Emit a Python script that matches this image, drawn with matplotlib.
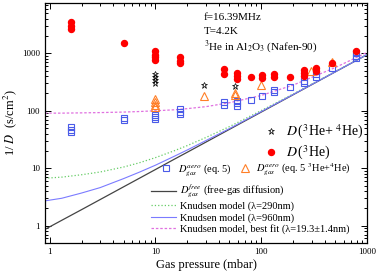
import numpy as np
import matplotlib
matplotlib.use('Agg')
from matplotlib import pyplot as plt
from matplotlib import ticker

plt.rcParams['font.family'] = ['Liberation Serif', 'DejaVu Serif']
plt.rcParams['mathtext.fontset'] = 'stix'

# D(3He), red dots
p_he3 = [1.6, 1.6, 1.6, 5, 10, 10, 10, 10, 17, 17, 17, 44, 44, 59, 59, 59, 80,
         102, 102, 133, 133, 186, 254, 254, 254, 330, 330, 470, 790]
inv_he3 = [3500, 3000, 2700, 1500, 1100, 950, 850, 780, 850, 750, 690, 540, 440,
           450, 400, 360, 390, 420, 370, 430, 380, 395, 520, 460, 410, 560, 500, 680, 1100]

# D(3He+4He), stars
p_mix = [10, 10, 10, 10, 29, 57]
inv_mix = [430, 380, 340, 310, 285, 270]

# D_gas^aero eq.5, blue squares
p_aero = [1.6, 1.6, 1.6, 5, 5, 10, 10, 10, 17, 17, 17, 44, 44, 59, 59, 59, 80,
          102, 133, 133, 186, 254, 254, 330, 330, 470, 790, 790, 790]
inv_aero = [53, 47, 43, 76, 69, 86, 78, 72, 108, 97, 89, 142, 124, 150, 135, 122, 157,
            182, 232, 212, 260, 335, 300, 430, 390, 545, 1000, 900, 820]

# D_gas^aero eq.5 3He+4He, orange triangles
p_aero_mix = [10, 10, 10, 10, 29, 57, 57, 100, 295, 470]
inv_aero_mix = [160, 140, 125, 115, 182, 205, 190, 280, 500, 720]

# model curves
p_line = [0.9, 1.3, 2, 3, 5, 7, 10, 15, 20, 30, 50, 100, 200, 500, 1000]
free_gas = [0.86, 1.24, 1.9, 2.85, 4.75, 6.65, 9.5, 14.3, 19, 28.5, 47.5, 95, 190, 475, 950]
knud_290 = [6.7, 7.0, 7.7, 8.6, 10.5, 12.4, 15.3, 20.1, 24.8, 34.3, 53, 101, 196, 481, 956]
knud_960 = [2.7, 3.0, 3.7, 4.6, 6.6, 8.5, 11.3, 16.1, 20.8, 30.3, 49, 97, 192, 477, 952]
knud_fit = [91, 91, 92, 93, 95, 97, 100, 104, 109, 118, 138, 185, 280, 565, 1040]

fig = plt.figure(figsize=(3.8, 2.78), dpi=100)
ax = fig.add_axes([0.118, 0.126, 0.848, 0.863])
ax.set_xscale('log')
ax.set_yscale('log')

l_free, = ax.plot(p_line, free_gas, '-', color='#444444', lw=0.9)
l_290, = ax.plot(p_line, knud_290, ':', color='#66cc66', lw=0.9)
l_960, = ax.plot(p_line, knud_960, '-', color='#7b7bff', lw=0.8)
l_fit, = ax.plot(p_line, knud_fit, '--', color='#e070e0', lw=0.9, dashes=(2, 1.5))

h_aero, = ax.plot(p_aero, inv_aero, 's', mfc='none', mec='#4a5be8', ms=4.3, mew=0.8, ls='none')
h_amix, = ax.plot(p_aero_mix, inv_aero_mix, '^', mfc='none', mec='#ff7f27', ms=5.3, mew=0.8, ls='none')
h_mix, = ax.plot(p_mix, inv_mix, '*', mfc='none', mec='black', ms=5, mew=0.5, ls='none')
h_he3, = ax.plot(p_he3, inv_he3, 'o', color='#ff0000', ms=4.3, ls='none')

ax.set_xlim(0.9, 1000)
ax.set_ylim(0.5, 7500)

fmt = ticker.FuncFormatter(lambda v, pos: '%g' % v)
ax.xaxis.set_major_formatter(fmt)
ax.yaxis.set_major_formatter(fmt)
ax.xaxis.set_minor_formatter(ticker.NullFormatter())
ax.yaxis.set_minor_formatter(ticker.NullFormatter())
ax.tick_params(which='both', direction='in', top=True, right=True, labelsize=6.5, width=0.7)
ax.tick_params(which='major', length=4)
ax.tick_params(which='minor', length=2)
for s in ax.spines.values():
    s.set_linewidth(0.9)

ax.set_xlabel('Gas pressure (mbar)', fontsize=9, labelpad=2)
ax.set_ylabel(r'1/ $D$  (s/cm$^2$)', fontsize=9, labelpad=2)

ax.text(0.494, 0.93, 'f=16.39MHz', transform=ax.transAxes, fontsize=8)
ax.text(0.494, 0.87, 'T=4.2K', transform=ax.transAxes, fontsize=8)
ax.text(0.494, 0.805, r'$^3$He in Al$_2$O$_3$ (Nafen-90)', transform=ax.transAxes, fontsize=8)

leg1 = ax.legend([h_mix, h_he3], [r'$D\,$($^3$He+ $^4$He)', r'$D\,$($^3$He)'],
                 loc='upper left', bbox_to_anchor=(0.68, 0.5), frameon=False,
                 fontsize=10, handlelength=1, handletextpad=0.6, labelspacing=0.2,
                 borderpad=0, borderaxespad=0)
ax.add_artist(leg1)
leg2 = ax.legend([h_aero, h_amix],
                 [r'$D_{gas}^{aero}$ (eq. 5)', r'$D_{gas}^{aero}$ (eq. 5 $^3$He+$^4$He)'],
                 loc='upper left', bbox_to_anchor=(0.36, 0.34), frameon=False, ncol=2,
                 fontsize=7.5, handlelength=1, handletextpad=0.6, columnspacing=0.8,
                 borderpad=0, borderaxespad=0)
ax.add_artist(leg2)
ax.legend([l_free, l_290, l_960, l_fit],
          [r'$D_{gas}^{free}$ (free-gas diffusion)', 'Knudsen model (\u03bb=290nm)',
           'Knudsen model (\u03bb=960nm)', 'Knudsen model, best fit (\u03bb=19.3\u00b11.4nm)'],
          loc='upper left', bbox_to_anchor=(0.33, 0.25), frameon=False,
          fontsize=7.5, handlelength=2.4, handletextpad=0.4, labelspacing=0.15,
          borderpad=0, borderaxespad=0)

fig.savefig('out.png', dpi=100)
